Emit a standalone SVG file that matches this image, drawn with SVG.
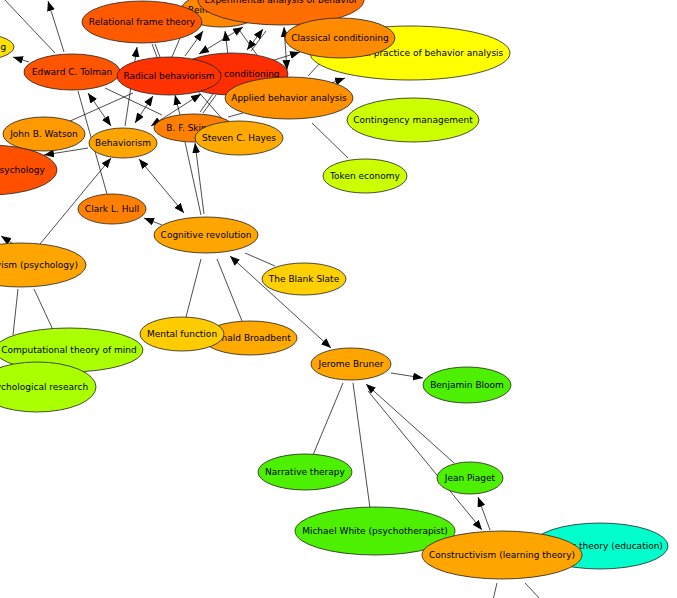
<svg xmlns="http://www.w3.org/2000/svg" width="677" height="598" viewBox="0 0 677 598">
<defs>
<marker id="ah" viewBox="0 0 10 8" refX="10" refY="4" markerWidth="10" markerHeight="8" markerUnits="userSpaceOnUse" orient="auto-start-reverse"><path d="M0,0 L10,4 L0,8 z" fill="#000"/></marker>
<style>
.e{stroke:#000;stroke-width:0.7;fill:none}
.a{marker-end:url(#ah)}
.d{marker-start:url(#ah);marker-end:url(#ah)}
.n ellipse{stroke:#222;stroke-width:0.8}
.n text{font-family:"DejaVu Sans",Verdana,sans-serif;font-size:9px;fill:#000;text-anchor:middle}
</style>
</defs>
<rect width="677" height="598" fill="#fff"/>
<g id="connectors">
<line class="e" x1="3" y1="-2" x2="55" y2="53"/>
<line class="e" x1="78" y1="91" x2="107" y2="194"/>
<line class="e" x1="105" y1="88" x2="162" y2="115"/>
<line class="e" x1="68" y1="122" x2="133" y2="93"/>
<line class="e" x1="152" y1="44" x2="157" y2="57"/>
<line class="e" x1="155" y1="44" x2="160" y2="57"/>
<line class="e" x1="172" y1="57" x2="180" y2="38"/>
<line class="e" x1="240" y1="31" x2="257" y2="55"/>
<line class="e" x1="200" y1="112" x2="213" y2="94"/>
<line class="e" x1="203" y1="113" x2="216" y2="95"/>
<line class="e" x1="195" y1="88" x2="225" y2="122"/>
<line class="e" x1="243" y1="113" x2="228" y2="117"/>
<line class="e" x1="308" y1="76" x2="320" y2="63"/>
<line class="e" x1="312" y1="123" x2="348" y2="158"/>
<line class="e" x1="201" y1="215" x2="185" y2="142"/>
<line class="e" x1="201" y1="259" x2="186" y2="317"/>
<line class="e" x1="217" y1="259" x2="242" y2="321"/>
<line class="e" x1="245" y1="253" x2="275" y2="266"/>
<line class="e" x1="18" y1="289" x2="13" y2="335"/>
<line class="e" x1="34" y1="289" x2="53" y2="330"/>
<line class="e" x1="343" y1="383" x2="313" y2="455"/>
<line class="e" x1="353" y1="383" x2="370" y2="508"/>
<line class="e" x1="497" y1="583" x2="493" y2="600"/>
<line class="e" x1="525" y1="583" x2="541" y2="600"/>
<line class="e a" x1="64" y1="52" x2="48" y2="1"/>
<line class="e a" x1="29" y1="62" x2="13" y2="57"/>
<line class="e d" x1="88" y1="93" x2="111" y2="126"/>
<line class="e a" x1="125" y1="126" x2="137" y2="47"/>
<line class="e d" x1="135" y1="123" x2="153" y2="96"/>
<line class="e a" x1="180" y1="115" x2="175" y2="95"/>
<line class="e d" x1="151" y1="126" x2="201" y2="94"/>
<line class="e a" x1="185" y1="56" x2="203" y2="31"/>
<line class="e d" x1="199" y1="54" x2="243" y2="27"/>
<line class="e a" x1="228" y1="55" x2="225" y2="31"/>
<line class="e d" x1="247" y1="50" x2="263" y2="29"/>
<line class="e" x1="251" y1="51" x2="266" y2="31"/>
<line class="e d" x1="284" y1="27" x2="287" y2="70"/>
<line class="e a" x1="271" y1="61" x2="300" y2="52"/>
<line class="e a" x1="318" y1="88" x2="345" y2="78"/>
<line class="e a" x1="204" y1="214" x2="195" y2="143"/>
<line class="e d" x1="139" y1="159" x2="184" y2="213"/>
<line class="e a" x1="162" y1="225" x2="144" y2="218"/>
<line class="e a" x1="40" y1="244" x2="111" y2="158"/>
<line class="e a" x1="88" y1="148" x2="44" y2="155"/>
<line class="e a" x1="15" y1="245" x2="1" y2="236"/>
<line class="e d" x1="230" y1="256" x2="331" y2="348"/>
<line class="e a" x1="391" y1="373" x2="423" y2="378"/>
<line class="e a" x1="454" y1="463" x2="366" y2="384"/>
<line class="e a" x1="368" y1="391" x2="482" y2="530"/>
<line class="e a" x1="490" y1="530" x2="478" y2="497"/>
</g>
<g id="latent-learning" class="n"><ellipse cx="-28" cy="47" rx="42" ry="14" fill="#ffe000"/><text x="-28" y="50">Latent learning</text></g>
<g id="reinforcement" class="n"><ellipse cx="221" cy="10" rx="40" ry="17" fill="#ff8800"/><text x="221" y="13">Reinforcement</text></g>
<g id="experimental-analysis" class="n"><ellipse cx="281" cy="0" rx="83" ry="25" fill="#ff6e00"/><text x="281" y="3">Experimental analysis of behavior</text></g>
<g id="relational-frame-theory" class="n"><ellipse cx="142" cy="22" rx="60" ry="21" fill="#ff5a00"/><text x="142" y="25">Relational frame theory</text></g>
<g id="professional-practice" class="n"><ellipse cx="410" cy="53" rx="100" ry="27" fill="#ffff00"/><text x="410" y="56">Professional practice of behavior analysis</text></g>
<g id="classical-conditioning" class="n"><ellipse cx="340" cy="38" rx="55" ry="20" fill="#ff8c00"/><text x="340" y="41">Classical conditioning</text></g>
<g id="tolman" class="n"><ellipse cx="72" cy="72" rx="48" ry="18" fill="#ff5500"/><text x="72" y="75">Edward C. Tolman</text></g>
<g id="operant-conditioning" class="n"><ellipse cx="232" cy="74" rx="56" ry="21" fill="#ff2e00"/><text x="232" y="77">Operant conditioning</text></g>
<g id="radical-behaviorism" class="n"><ellipse cx="169" cy="76" rx="52" ry="19" fill="#ff3300"/><text x="169" y="79">Radical behaviorism</text></g>
<g id="applied-behavior-analysis" class="n"><ellipse cx="289" cy="98" rx="64" ry="21" fill="#ff9000"/><text x="289" y="101">Applied behavior analysis</text></g>
<g id="contingency-management" class="n"><ellipse cx="413" cy="120" rx="66" ry="22" fill="#ccff00"/><text x="413" y="123">Contingency management</text></g>
<g id="token-economy" class="n"><ellipse cx="365" cy="176" rx="42" ry="17" fill="#ccff00"/><text x="365" y="179">Token economy</text></g>
<g id="watson" class="n"><ellipse cx="44" cy="134" rx="41" ry="17" fill="#ff9900"/><text x="44" y="137">John B. Watson</text></g>
<g id="behaviorism" class="n"><ellipse cx="123" cy="143" rx="34" ry="15" fill="#ffa500"/><text x="123" y="146">Behaviorism</text></g>
<g id="comparative-psychology" class="n"><ellipse cx="-11" cy="170" rx="68" ry="25" fill="#ff5000"/><text x="-11" y="173">Comparative psychology</text></g>
<g id="skinner" class="n"><ellipse cx="194" cy="128" rx="40" ry="14" fill="#ff8000"/><text x="194" y="131">B. F. Skinner</text></g>
<g id="hayes" class="n"><ellipse cx="239" cy="138" rx="44" ry="17" fill="#ffaa00"/><text x="239" y="141">Steven C. Hayes</text></g>
<g id="hull" class="n"><ellipse cx="112" cy="209" rx="34" ry="15" fill="#ff8000"/><text x="112" y="212">Clark L. Hull</text></g>
<g id="cognitive-revolution" class="n"><ellipse cx="206" cy="235" rx="52" ry="18" fill="#ffa500"/><text x="206" y="238">Cognitive revolution</text></g>
<g id="cognitivism" class="n"><ellipse cx="21" cy="265" rx="65" ry="22" fill="#ffa500"/><text x="21" y="268">Cognitivism (psychology)</text></g>
<g id="computational-theory" class="n"><ellipse cx="69" cy="350" rx="74" ry="22" fill="#aaff00"/><text x="69" y="353">Computational theory of mind</text></g>
<g id="psychological-research" class="n"><ellipse cx="37" cy="387" rx="59" ry="25" fill="#aaff00"/><text x="37" y="390">Psychological research</text></g>
<g id="blank-slate" class="n"><ellipse cx="304" cy="279" rx="42" ry="16" fill="#ffd000"/><text x="304" y="282">The Blank Slate</text></g>
<g id="broadbent" class="n"><ellipse cx="250" cy="338" rx="47" ry="17" fill="#ffaa00"/><text x="250" y="341">Donald Broadbent</text></g>
<g id="mental-function" class="n"><ellipse cx="182" cy="334" rx="42" ry="17" fill="#ffcc00"/><text x="182" y="337">Mental function</text></g>
<g id="bruner" class="n"><ellipse cx="351" cy="364" rx="40" ry="16" fill="#ffa500"/><text x="351" y="367">Jerome Bruner</text></g>
<g id="bloom" class="n"><ellipse cx="467" cy="385" rx="44" ry="18" fill="#4cf000"/><text x="467" y="388">Benjamin Bloom</text></g>
<g id="narrative-therapy" class="n"><ellipse cx="305" cy="472" rx="47" ry="18" fill="#4cf000"/><text x="305" y="475">Narrative therapy</text></g>
<g id="piaget" class="n"><ellipse cx="470" cy="478" rx="33" ry="16" fill="#4cf000"/><text x="470" y="481">Jean Piaget</text></g>
<g id="michael-white" class="n"><ellipse cx="375" cy="531" rx="80" ry="24" fill="#4cf000"/><text x="375" y="534">Michael White (psychotherapist)</text></g>
<g id="learning-theory" class="n"><ellipse cx="600" cy="546" rx="68" ry="23" fill="#00ffcc"/><text x="600" y="549">Learning theory (education)</text></g>
<g id="constructivism" class="n"><ellipse cx="502" cy="555" rx="80" ry="24" fill="#ffa500"/><text x="502" y="558">Constructivism (learning theory)</text></g>
</svg>
